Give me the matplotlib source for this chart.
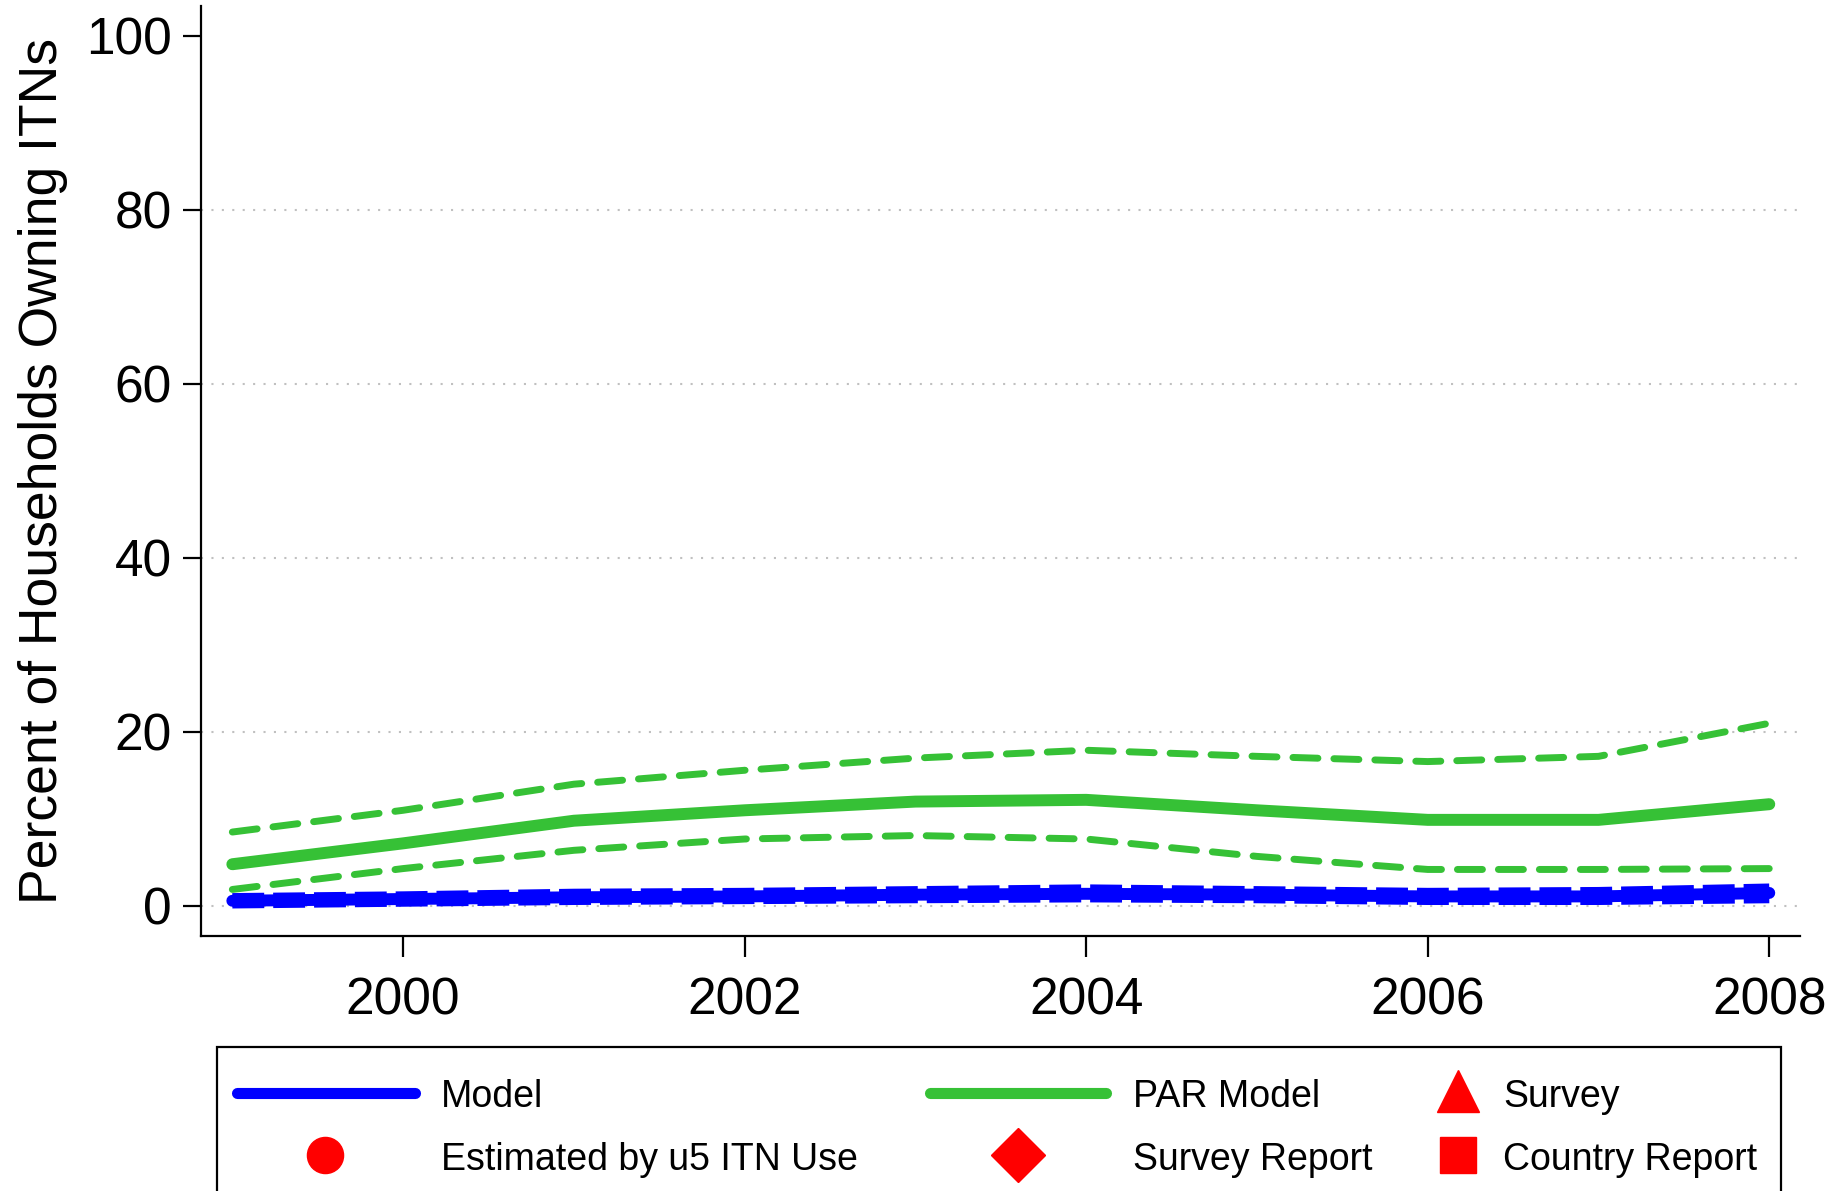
import matplotlib.pyplot as plt
from matplotlib.lines import Line2D
from matplotlib.patches import Rectangle

plt.rcParams['font.family'] = ['Liberation Sans', 'DejaVu Sans']

years = [1999, 2000, 2001, 2002, 2003, 2004, 2005, 2006, 2007, 2008]

# household ITN ownership, percent
model = [0.6, 0.8, 1.0, 1.1, 1.3, 1.4, 1.3, 1.1, 1.1, 1.5]
model_hi = [0.8, 1.0, 1.3, 1.4, 1.6, 1.8, 1.6, 1.4, 1.5, 1.9]
model_lo = [0.4, 0.6, 0.8, 0.9, 1.0, 1.1, 1.0, 0.8, 0.8, 1.0]

par_model = [4.8, 7.2, 9.8, 11.0, 12.0, 12.2, 11.0, 9.9, 9.9, 11.7]
par_hi = [8.5, 11.0, 14.0, 15.6, 17.0, 17.9, 17.2, 16.6, 17.2, 21.0]
par_lo = [1.9, 4.3, 6.4, 7.7, 8.1, 7.7, 5.7, 4.2, 4.2, 4.3]

BLUE = '#0000ff'
GREEN = '#36c136'
RED = '#ff0000'

fig = plt.figure(figsize=(18.33, 11.91), dpi=100)
ax = fig.add_axes([0.1097, 0.2141, 0.8723, 0.7809])

ax.plot(years, par_hi, color=GREEN, lw=5, ls=(0, (3.6, 2.3)), dash_capstyle='round')
ax.plot(years, par_lo, color=GREEN, lw=5, ls=(0, (3.6, 2.3)), dash_capstyle='round')
ax.plot(years, par_model, color=GREEN, lw=8.6, solid_capstyle='round')
ax.plot(years, model_hi, color=BLUE, lw=8.6, ls=(0, (2.67, 0.75)), dash_capstyle='butt')
ax.plot(years, model_lo, color=BLUE, lw=8.6, ls=(0, (2.67, 0.75)), dash_capstyle='butt')
ax.plot(years, model, color=BLUE, lw=8.6, solid_capstyle='round')

ax.set_xlim(1998.817, 2008.18)
ax.set_ylim(-3.45, 103.45)
ax.set_xticks([2000, 2002, 2004, 2006, 2008])
ax.set_yticks([0, 20, 40, 60, 80, 100])
for g in [0, 20, 40, 60, 80]:
    ax.axhline(g, color='#c0c0c0', lw=1.5, ls=(0, (1, 4)), zorder=0)

for side in ['top', 'right']:
    ax.spines[side].set_visible(False)
for side in ['left', 'bottom']:
    ax.spines[side].set_linewidth(1.6)
ax.tick_params(axis='both', direction='out', width=1.6, labelsize=37)
ax.tick_params(axis='y', length=13, pad=8)
ax.tick_params(axis='x', length=15, pad=14)
ax.set_ylabel('Percent of Households Owning ITNs', fontsize=38.5)
ax.yaxis.set_label_coords(-0.083, 0.5)

# legend box under the plot
fig.patches.append(Rectangle((0.1184, -0.05), 0.8532, 0.171, transform=fig.transFigure,
                             fill=False, edgecolor='black', lw=1.6))
W, H = 1833.0, 1191.0
r1 = 1 - 1093 / H
r2 = 1 - 1155 / H
t1 = 1 - 1097 / H
t2 = 1 - 1160 / H
fs = 27
fig.lines.append(Line2D([237 / W, 415 / W], [r1, r1], color=BLUE, lw=8,
                        solid_capstyle='round', transform=fig.transFigure))
fig.text(441 / W, t1, 'Model', fontsize=fs, va='center')
fig.lines.append(Line2D([930 / W, 1106 / W], [r1, r1], color=GREEN, lw=8,
                        solid_capstyle='round', transform=fig.transFigure))
fig.text(1133 / W, t1, 'PAR Model', fontsize=fs, va='center')
fig.lines.append(Line2D([1458 / W], [r1 + 0.002], marker='^', ms=30, color=RED, ls='none',
                        transform=fig.transFigure))
fig.text(1503 / W, t1, 'Survey', fontsize=fs, va='center')

fig.lines.append(Line2D([325 / W], [r2], marker='o', ms=26, color=RED, ls='none',
                        transform=fig.transFigure))
fig.text(441 / W, t2, 'Estimated by u5 ITN Use', fontsize=fs, va='center')
fig.lines.append(Line2D([1018 / W], [r2], marker='D', ms=27, color=RED, ls='none',
                        transform=fig.transFigure))
fig.text(1133 / W, t2, 'Survey Report', fontsize=fs, va='center')
fig.lines.append(Line2D([1458 / W], [r2], marker='s', ms=26, color=RED, ls='none',
                        transform=fig.transFigure))
fig.text(1503 / W, t2, 'Country Report', fontsize=fs, va='center')

fig.savefig('out.png', dpi=100)
